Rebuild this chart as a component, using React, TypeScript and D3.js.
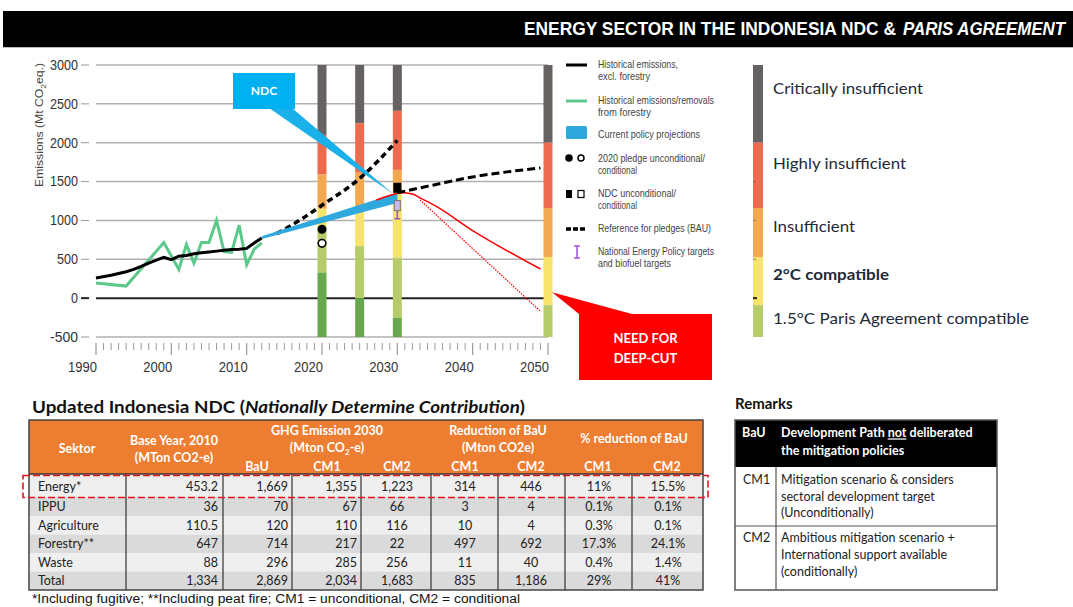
import React from 'react';
import * as d3 from 'd3';

const W = 1073, H = 607;

const yTicks = [3000, 2500, 2000, 1500, 1000, 500, 0, -500];
const xLabelYears = [1990, 2000, 2010, 2020, 2030, 2040, 2050];

const histYears = [1990, 1992, 1994, 1995, 1996, 1997, 1998, 1999, 2000, 2001, 2002, 2003, 2004, 2005, 2006, 2007, 2008, 2009, 2010, 2011, 2012];
const histValues = [260, 295, 340, 370, 410, 450, 490, 525, 495, 540, 550, 570, 585, 595, 605, 615, 625, 630, 640, 710, 775];

const forestYears = [1990, 1994, 1999, 2001, 2002, 2003, 2004, 2005, 2006, 2007, 2008, 2009, 2010, 2011, 2012];
const forestValues = [195, 155, 715, 370, 690, 450, 715, 715, 1000, 600, 590, 940, 430, 630, 710];

const policyYears = [2012, 2030];
const policyUpper = [795, 1355];
const policyLower = [760, 1223];

const bauYears = [2014, 2017, 2020, 2025, 2030];
const bauValues = [830, 1000, 1195, 1540, 2030];
const bauExtYears = [2030, 2035, 2040, 2045, 2049];
const bauExtValues = [1355, 1460, 1560, 1630, 1675];

const deepYears = [2027.2, 2029, 2030.5, 2032, 2033, 2035, 2040, 2049];
const deepValues = [1262, 1320, 1357, 1340, 1290, 1190, 870, 375];
const deepDotYears = [2033, 2049];
const deepDotValues = [1265, -170];

const pledgeYear = 2020;
const pledgeUncond = 887;
const pledgeCond = 706;
const ndcYear = 2030;
const ndcUncond = 1420;
const ndcCond = 1190;
const nepRange = [1022, 1250];

const barYears = [2020, 2025, 2030, 2050];
const barBreaks = [
  [3000, 2100, 1590, 1150, 900, 330, -500],
  [3000, 2250, 1615, 1155, 670, 0, -500],
  [3000, 2410, 1650, 1350, 520, -255, -500],
  [3000, 2000, 1160, 530, -90, -500],
];
const bandColors = ['#676262', '#ee6b4f', '#f3a852', '#f5e36c', '#b6cc6b', '#69a84f'];
const legendBreaks = [3000, 2000, 1160, 530, -90, -500];
const legendLabels = ['Critically insufficient', 'Highly insufficient', 'Insufficient', '2°C compatible', '1.5°C Paris Agreement compatible'];

const legendItems = [
  ['Historical emissions,', 'excl. forestry'],
  ['Historical emissions/removals', 'from forestry'],
  ['Current policy projections'],
  ['2020 pledge unconditional/', 'conditional'],
  ['NDC unconditional/', 'conditional'],
  ['Reference for pledges (BAU)'],
  ['National Energy Policy targets', 'and biofuel targets'],
];

const sectors = ['Energy*', 'IPPU', 'Agriculture', 'Forestry**', 'Waste', 'Total'];
const baseYear = ['453.2', '36', '110.5', '647', '88', '1,334'];
const ghgBau = ['1,669', '70', '120', '714', '296', '2,869'];
const ghgCm1 = ['1,355', '67', '110', '217', '285', '2,034'];
const ghgCm2 = ['1,223', '66', '116', '22', '256', '1,683'];
const redCm1 = ['314', '3', '10', '497', '11', '835'];
const redCm2 = ['446', '4', '4', '692', '40', '1,186'];
const pctCm1 = ['11%', '0.1%', '0.3%', '17.3%', '0.4%', '29%'];
const pctCm2 = ['15.5%', '0.1%', '0.1%', '24.1%', '1.4%', '41%'];

const SANS = '"Liberation Sans", Arial, sans-serif';
const CAL = 'Lato, "Open Sans", sans-serif';

export default function App() {
  const x = d3.scaleLinear().domain([1990, 2050]).range([96, 548]);
  const y = d3.scaleLinear().domain([-500, 3000]).range([337, 65]);

  const line = d3.line<[number, number]>().x(d => x(d[0])).y(d => y(d[1]));
  const curve = d3.line<[number, number]>().x(d => x(d[0])).y(d => y(d[1])).curve(d3.curveMonotoneX);
  const zip = (a: number[], b: number[]) => a.map((v, i) => [v, b[i]] as [number, number]);

  const area = d3.area<number>()
    .x((_, i) => x(policyYears[i]))
    .y0((_, i) => y(policyLower[i]))
    .y1((_, i) => y(policyUpper[i]));

  const minorYears = d3.range(1990, 2051);
  const bw = 9;

  const cols = [29, 126, 223, 292, 361, 431, 498, 565, 632, 703];
  const rowTops = [474, 497.5, 516, 534.5, 553, 571.5, 590];
  const rowFill = ['#efefef', '#dadada', '#efefef', '#dadada', '#efefef', '#dadada'];

  const ndcTip = [x(ndcYear) - 4, y(1340)];
  const deepTip = [x(2050) + 4, y(75)];

  const legendY = [64, 100, 134, 158, 193, 228, 251];
  const legendLens = [[80, 52], [116, 53], [102], [107, 39], [78, 39], [113], [116, 73]];

  return (
    <svg width={W} height={H} style={{ position: 'fixed', left: 0, top: 0, background: '#fff' }}
      xmlns="http://www.w3.org/2000/svg">
      {/* header */}
      <rect x={3} y={11} width={1070} height={36} fill="#000" />
      <line x1={3} x2={1073} y1={47.5} y2={47.5} stroke="#bbb" strokeWidth={1} />
      <text transform="translate(524,35) scale(1,1.13)" x={0} y={0} fill="#fff" fontFamily={SANS} fontWeight="bold" fontSize={17}
        textLength={372} lengthAdjust="spacingAndGlyphs">ENERGY SECTOR IN THE INDONESIA NDC &amp;</text>
      <text transform="translate(903,35) scale(1,1.13)" x={0} y={0} fill="#fff" fontFamily={SANS} fontWeight="bold" fontStyle="italic" fontSize={16.5}
        textLength={162} lengthAdjust="spacingAndGlyphs">PARIS AGREEMENT</text>

      {/* gridlines */}
      {yTicks.map(t => (
        <g key={t}>
          <line x1={96} x2={548} y1={y(t)} y2={y(t)} stroke={t === 0 ? '#222' : '#b0b0b0'} strokeWidth={t === 0 ? 2 : 1.5} />
          <line x1={81} x2={89} y1={y(t)} y2={y(t)} stroke={t === 0 ? '#222' : '#999'} strokeWidth={t === 0 ? 2 : 1} />
          <text x={78} y={y(t)} dy="0.35em" textAnchor="end" fontFamily={SANS} fontSize={14} fill="#333"
            textLength={String(t).length * 7} lengthAdjust="spacingAndGlyphs">{t}</text>
        </g>
      ))}
      <text transform={`translate(43,125) rotate(-90)`} textAnchor="middle" fontFamily={SANS} fontSize={11.5} fill="#444"
        textLength={124} lengthAdjust="spacingAndGlyphs">
        Emissions (Mt CO<tspan fontSize={8} dy={3}>2</tspan><tspan dy={-3}>eq.)</tspan>
      </text>

      {/* x ticks */}
      {minorYears.map(yr => (
        <line key={yr} x1={x(yr)} x2={x(yr)} y1={343} y2={yr % 10 === 0 ? 355 : 350}
          stroke="#999" strokeWidth={yr % 10 === 0 ? 1.2 : 1} />
      ))}
      {xLabelYears.map(yr => (
        <text key={yr} x={x(yr) + 1} y={372} textAnchor="end" fontFamily={SANS} fontSize={15} fill="#333"
          textLength={29} lengthAdjust="spacingAndGlyphs">{yr}</text>
      ))}

      {/* bars */}
      {barYears.map((yr, bi) => (
        <g key={yr}>
          {barBreaks[bi].slice(0, -1).map((top, k) => (
            <rect key={k} x={x(yr) - bw / 2} width={bw} y={y(top)} height={y(barBreaks[bi][k + 1]) - y(top)} fill={bandColors[k]} />
          ))}
        </g>
      ))}

      {/* history */}
      <path d={line(zip(forestYears, forestValues)) || ''} fill="none" stroke="#5cc88a" strokeWidth={3} />
      <path d={line(zip(histYears, histValues)) || ''} fill="none" stroke="#000" strokeWidth={3} />

      {/* BAU */}
      <path d={curve(zip(bauYears, bauValues)) || ''} fill="none" stroke="#000" strokeWidth={3.5} strokeDasharray="6,4" />

      {/* current policy wedge */}
      <path d={area(policyYears) || ''} fill="#2ea8dd" />

      {/* deep cut lines */}
      <path d={curve(zip(deepYears, deepValues)) || ''} fill="none" stroke="#f00" strokeWidth={1.5} />
      <path d={line(zip(deepDotYears, deepDotValues)) || ''} fill="none" stroke="#f00" strokeWidth={1.2} strokeDasharray="1.5,1.2" />

      <path d={curve(zip(bauExtYears, bauExtValues)) || ''} fill="none" stroke="#000" strokeWidth={3} strokeDasharray="8,4" />

      {/* NDC callout */}
      <polygon points={`269,108 292,108 ${ndcTip[0]},${ndcTip[1]}`} fill="#1ab0ea" />
      <rect x={233} y={73} width={62} height={36} fill="#00b0f0" />
      <text x={264} y={91} dy="0.35em" textAnchor="middle" fill="#fff" fontFamily={CAL} fontWeight="bold" fontSize={12}>NDC</text>

      {/* markers */}
      <circle cx={x(pledgeYear)} cy={y(pledgeUncond)} r={4.5} fill="#000" />
      <circle cx={x(pledgeYear)} cy={y(pledgeCond)} r={3.8} fill="#fff" stroke="#000" strokeWidth={1.6} />
      <rect x={x(ndcYear) - 4} y={y(ndcUncond) - 5} width={8} height={10} fill="#000" />
      <line x1={x(ndcYear)} x2={x(ndcYear)} y1={y(nepRange[1])} y2={y(nepRange[0])} stroke="#9b4fd6" strokeWidth={1.5} />
      <line x1={x(ndcYear) - 3} x2={x(ndcYear) + 3} y1={y(nepRange[1])} y2={y(nepRange[1])} stroke="#9b4fd6" strokeWidth={1.5} />
      <line x1={x(ndcYear) - 3} x2={x(ndcYear) + 3} y1={y(nepRange[0])} y2={y(nepRange[0])} stroke="#9b4fd6" strokeWidth={1.5} />
      <rect x={x(ndcYear) - 3} y={y(ndcCond) - 5} width={6} height={10} fill="#cdb8ee" stroke="#777" strokeWidth={1} />

      {/* deep cut callout */}
      <polygon points={`${deepTip[0]},${deepTip[1]} 579,314 632,314`} fill="#f00" />
      <rect x={579} y={314} width={133} height={66} fill="#f00" />
      <text x={645.5} y={338} dy="0.35em" textAnchor="middle" fill="#fff" fontFamily={CAL} fontWeight="bold" fontSize={13}>NEED FOR</text>
      <text x={645.5} y={358} dy="0.35em" textAnchor="middle" fill="#fff" fontFamily={CAL} fontWeight="bold" fontSize={13}>DEEP-CUT</text>

      {/* legend */}
      <line x1={566} x2={587} y1={65} y2={65} stroke="#000" strokeWidth={3} />
      <line x1={566} x2={587} y1={101} y2={101} stroke="#5cc88a" strokeWidth={3} />
      <rect x={566} y={126} width={21} height={13} rx={1.5} fill="#2ea8dd" />
      <circle cx={569} cy={158} r={3.8} fill="#000" />
      <circle cx={581} cy={158} r={3} fill="#fff" stroke="#000" strokeWidth={1.5} />
      <rect x={566} y={190} width={6} height={8} fill="#000" />
      <rect x={578} y={190.5} width={6} height={7} fill="#fff" stroke="#000" strokeWidth={1.2} />
      <line x1={566} x2={587} y1={229} y2={229} stroke="#000" strokeWidth={3.5} strokeDasharray="5,2" />
      <g stroke="#9b4fd6" strokeWidth={1.5}>
        <line x1={577} x2={577} y1={246} y2={258} />
        <line x1={574} x2={580} y1={246} y2={246} />
        <line x1={574} x2={580} y1={258} y2={258} />
      </g>
      <g fontFamily={SANS} fontSize={10.5} fill="#444">
        {legendItems.map((lines, i) => lines.map((t, j) => (
          <text key={`${i}-${j}`} x={598} y={legendY[i] + j * 12} dy="0.35em"
            textLength={legendLens[i][j]} lengthAdjust="spacingAndGlyphs">{t}</text>
        )))}
      </g>

      {/* right legend */}
      {legendBreaks.slice(0, -1).map((top, k) => (
        <rect key={k} x={753} width={10} y={y(top)} height={y(legendBreaks[k + 1]) - y(top)} fill={bandColors[k]} />
      ))}
      {[2500, 1500, 1000, 500].map(t => (
        <line key={t} x1={753} x2={756} y1={y(t)} y2={y(t)} stroke="#555" strokeWidth={1} opacity={0.6} />
      ))}
      <line x1={753} x2={757} y1={y(0)} y2={y(0)} stroke="#222" strokeWidth={2} />
      {legendLabels.map((lab, k) => {
        const ys = [88, 163, 226, 274, 318];
        const lens = [150, 133, 82, 116, 256];
        return (
          <text key={lab} x={773} y={ys[k]} dy="0.35em" fontFamily={CAL} fontSize={16} fill="#1f2a36"
            fontWeight={k === 3 ? 'bold' : 'normal'} textLength={lens[k]} lengthAdjust="spacingAndGlyphs">{lab}</text>
        );
      })}

      {/* table title */}
      <text x={32} y={407} dy="0.35em" fontFamily={CAL} fontWeight="bold" fontSize={17} fill="#111"
        textLength={493} lengthAdjust="spacingAndGlyphs">
        Updated Indonesia NDC (<tspan fontStyle="italic">Nationally Determine Contribution</tspan>)
      </text>

      {/* table */}
      <rect x={cols[0]} y={420} width={cols[9] - cols[0]} height={54} fill="#ed7d31" />
      {sectors.map((s, r) => (
        <rect key={s} x={cols[0]} y={rowTops[r]} width={cols[9] - cols[0]} height={rowTops[r + 1] - rowTops[r]} fill={rowFill[r]} />
      ))}
      <g fontFamily={CAL} fontWeight="bold" fontSize={12.5} fill="#fff" textAnchor="middle">
        <text x={77} y={449} dy="0.35em">Sektor</text>
        <text x={174} y={441} dy="0.35em">Base Year, 2010</text>
        <text x={174} y={458} dy="0.35em">(MTon CO2-e)</text>
        <text x={327} y={431} dy="0.35em">GHG Emission 2030</text>
        <text x={327} y={448} dy="0.35em">(Mton CO<tspan fontSize={8} dy={3}>2</tspan><tspan dy={-3}>-e)</tspan></text>
        <text x={498} y={431} dy="0.35em">Reduction of BaU</text>
        <text x={498} y={448} dy="0.35em">(Mton CO2e)</text>
        <text x={634} y={439} dy="0.35em">% reduction of BaU</text>
        {[['BaU', 257], ['CM1', 327], ['CM2', 397], ['CM1', 465], ['CM2', 531], ['CM1', 598], ['CM2', 667]].map(([t, cx], i) => (
          <text key={i} x={cx as number} y={467} dy="0.35em">{t}</text>
        ))}
      </g>
      <g fontFamily={CAL} fontSize={12.5} fill="#222">
        {sectors.map((s, r) => {
          const cy = (rowTops[r] + rowTops[r + 1]) / 2 + (r === 0 ? 1 : 0);
          return (
            <g key={s}>
              <text x={38} y={cy} dy="0.35em">{s}</text>
              <text x={218} y={cy} dy="0.35em" textAnchor="end">{baseYear[r]}</text>
              <text x={288} y={cy} dy="0.35em" textAnchor="end">{ghgBau[r]}</text>
              <text x={357} y={cy} dy="0.35em" textAnchor="end">{ghgCm1[r]}</text>
              <text x={397} y={cy} dy="0.35em" textAnchor="middle">{ghgCm2[r]}</text>
              <text x={465} y={cy} dy="0.35em" textAnchor="middle">{redCm1[r]}</text>
              <text x={531} y={cy} dy="0.35em" textAnchor="middle">{redCm2[r]}</text>
              <text x={599} y={cy} dy="0.35em" textAnchor="middle">{pctCm1[r]}</text>
              <text x={668} y={cy} dy="0.35em" textAnchor="middle">{pctCm2[r]}</text>
            </g>
          );
        })}
      </g>
      {cols.slice(1, -1).map(cx => (
        <line key={cx} x1={cx} x2={cx} y1={474} y2={590} stroke="#333" strokeWidth={1.2} />
      ))}
      <line x1={cols[0]} x2={cols[9]} y1={474} y2={474} stroke="#333" strokeWidth={1.5} />
      <rect x={cols[0]} y={420} width={cols[9] - cols[0]} height={170} fill="none" stroke="#444" strokeWidth={1.5} />
      <rect x={23} y={475.5} width={685} height={22} fill="none" stroke="#e8141b" strokeWidth={1.6} strokeDasharray="7,3" />

      <text x={32} y={599} dy="0.35em" fontFamily={SANS} fontSize={12.5} fill="#111"
        textLength={488} lengthAdjust="spacingAndGlyphs">
        *Including fugitive; **Including peat fire; CM1 = unconditional, CM2 = conditional
      </text>

      {/* remarks */}
      <text x={735} y={404} dy="0.35em" fontFamily={CAL} fontWeight="bold" fontSize={15} fill="#111">Remarks</text>
      <rect x={735} y={420} width={262} height={47} fill="#000" />
      <g fontFamily={CAL} fontSize={12.5}>
        <text x={742} y={433} dy="0.35em" fill="#fff" fontWeight="bold">BaU</text>
        <text x={781} y={433} dy="0.35em" fill="#fff" fontWeight="bold">Development Path <tspan textDecoration="underline">not</tspan> deliberated</text>
        <text x={781} y={451} dy="0.35em" fill="#fff" fontWeight="bold">the mitigation policies</text>
        <text x={743} y={480} dy="0.35em" fill="#222">CM1</text>
        <text x={781} y={480} dy="0.35em" fill="#222">Mitigation scenario &amp; considers</text>
        <text x={781} y={497} dy="0.35em" fill="#222">sectoral development target</text>
        <text x={781} y={513} dy="0.35em" fill="#222">(Unconditionally)</text>
        <text x={743} y={538} dy="0.35em" fill="#222">CM2</text>
        <text x={781} y={538} dy="0.35em" fill="#222">Ambitious mitigation scenario +</text>
        <text x={781} y={555} dy="0.35em" fill="#222">International support available</text>
        <text x={781} y={572} dy="0.35em" fill="#222">(conditionally)</text>
      </g>
      <line x1={776} x2={776} y1={467} y2={590} stroke="#555" strokeWidth={1.2} />
      <line x1={735} x2={997} y1={526} y2={526} stroke="#555" strokeWidth={1.2} />
      <rect x={735} y={420} width={262} height={170} fill="none" stroke="#555" strokeWidth={1.5} />
    </svg>
  );
}
